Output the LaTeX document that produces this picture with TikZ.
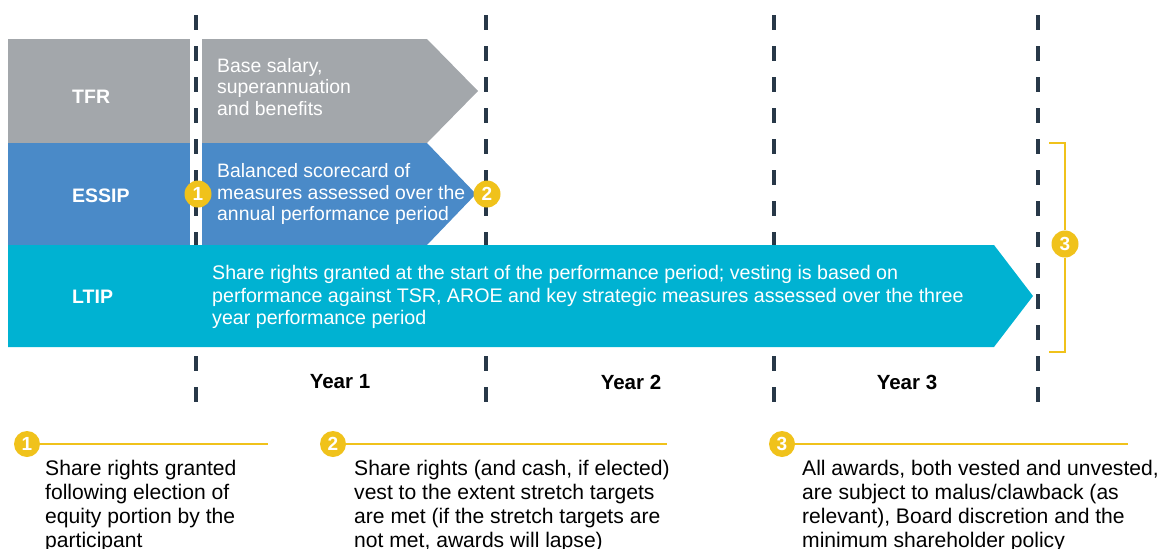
\documentclass[tikz,border=0pt]{standalone}
\usepackage{fontspec}
\setmainfont{Liberation Sans}
\definecolor{tfrgray}{HTML}{A3A7AB}
\definecolor{essipblue}{HTML}{4A8AC8}
\definecolor{ltipteal}{HTML}{00B2D2}
\definecolor{gold}{HTML}{F0C21B}
\definecolor{navy}{HTML}{283848}
\begin{document}
\begin{tikzpicture}[x=1pt,y=-1pt,
  timeline/.style={navy, line width=4pt, dash pattern=on 15pt off 16pt},
  barlabel/.style={text=white, font=\fontsize{19.5}{21}\selectfont\bfseries, anchor=west, inner sep=0},
  bartext/.style={text=white, font=\fontsize{19.4}{21.5}\selectfont, anchor=west, align=left, inner sep=0},
  marker/.style={circle, fill=gold, text=white, font=\fontsize{19}{19}\selectfont\bfseries, inner sep=0, minimum size=27pt},
  note/.style={font=\fontsize{21.1}{24}\selectfont, anchor=west, align=left, inner sep=0},
  goldline/.style={gold, line width=2.5pt},
  yearlabel/.style={font=\fontsize{20.5}{24}\selectfont\bfseries, inner sep=0}]
\useasboundingbox (0,0) rectangle (1160,549);
% timelines
\coordinate (t1a) at (196,15); \coordinate (t1b) at (196,402);
\coordinate (t2a) at (486,15); \coordinate (t2b) at (486,402);
\coordinate (t3a) at (774,15); \coordinate (t3b) at (774,402);
\coordinate (t4a) at (1038,15); \coordinate (t4b) at (1038,402);
\draw[timeline] (t1a) -- (t1b);
\draw[timeline] (t2a) -- (t2b);
\draw[timeline] (t3a) -- (t3b);
\draw[timeline] (t4a) -- (t4b);
% bars
\fill[tfrgray] (8,39) rectangle (190,143);
\fill[tfrgray] (202,39) -- (427,39) -- (478,91) -- (427,143) -- (202,143) -- cycle;
\fill[essipblue] (8,143) rectangle (190,245);
\fill[essipblue] (202,143) -- (427,143) -- (476,194) -- (427,245) -- (202,245) -- cycle;
\fill[ltipteal] (8,245) -- (994,245) -- (1033,296) -- (994,347) -- (8,347) -- cycle;
% bar labels
\node[barlabel] (tfr) at (72,97) {TFR};
\node[barlabel] (essip) at (72,196) {ESSIP};
\node[barlabel] (ltip) at (72,297) {LTIP};
\node[bartext] (tfrtext) at (217,87) {Base salary,\\superannuation\\and benefits};
\node[bartext] (essiptext) at (217,194) {Balanced scorecard of\\measures assessed over the\\annual performance period};
\node[bartext, font=\fontsize{19.65}{22.5}\selectfont] (ltiptext) at (212,297) {Share rights granted at the start of the performance period; vesting is based on\\performance against TSR, AROE and key strategic measures assessed over the three\\year performance period};
% markers
\node[marker] (m1) at (198,194) {1};
\node[marker] (m2) at (487,194) {2};
\node[marker] (m3) at (1065,244) {3};
\draw[goldline] (m3.north) |- (1049,143);
\draw[goldline] (m3.south) |- (1049,352);
% years
\node[yearlabel] (y1) at (340,382) {Year 1};
\node[yearlabel] (y2) at (631,382) {Year 2};
\node[yearlabel] (y3) at (907,382) {Year 3};
% notes
\node[marker, minimum size=26pt] (n1) at (27,444) {1};
\node[marker, minimum size=26pt] (n2) at (333,444) {2};
\node[marker, minimum size=26pt] (n3) at (782,444) {3};
\coordinate (e1) at (268,444);
\coordinate (e2) at (667,444);
\coordinate (e3) at (1128,444);
\draw[goldline] (n1.east) -- (e1);
\draw[goldline] (n2.east) -- (e2);
\draw[goldline] (n3.east) -- (e3);
\node[note] (note1) at (45,506) {Share rights granted\\following election of\\equity portion by the\\participant};
\node[note] (note2) at (354,506) {Share rights (and cash, if elected)\\vest to the extent stretch targets\\are met (if the stretch targets are\\not met, awards will lapse)};
\node[note] (note3) at (802,506) {All awards, both vested and unvested,\\are subject to malus/clawback (as\\relevant), Board discretion and the\\minimum shareholder policy};
\end{tikzpicture}
\end{document}
